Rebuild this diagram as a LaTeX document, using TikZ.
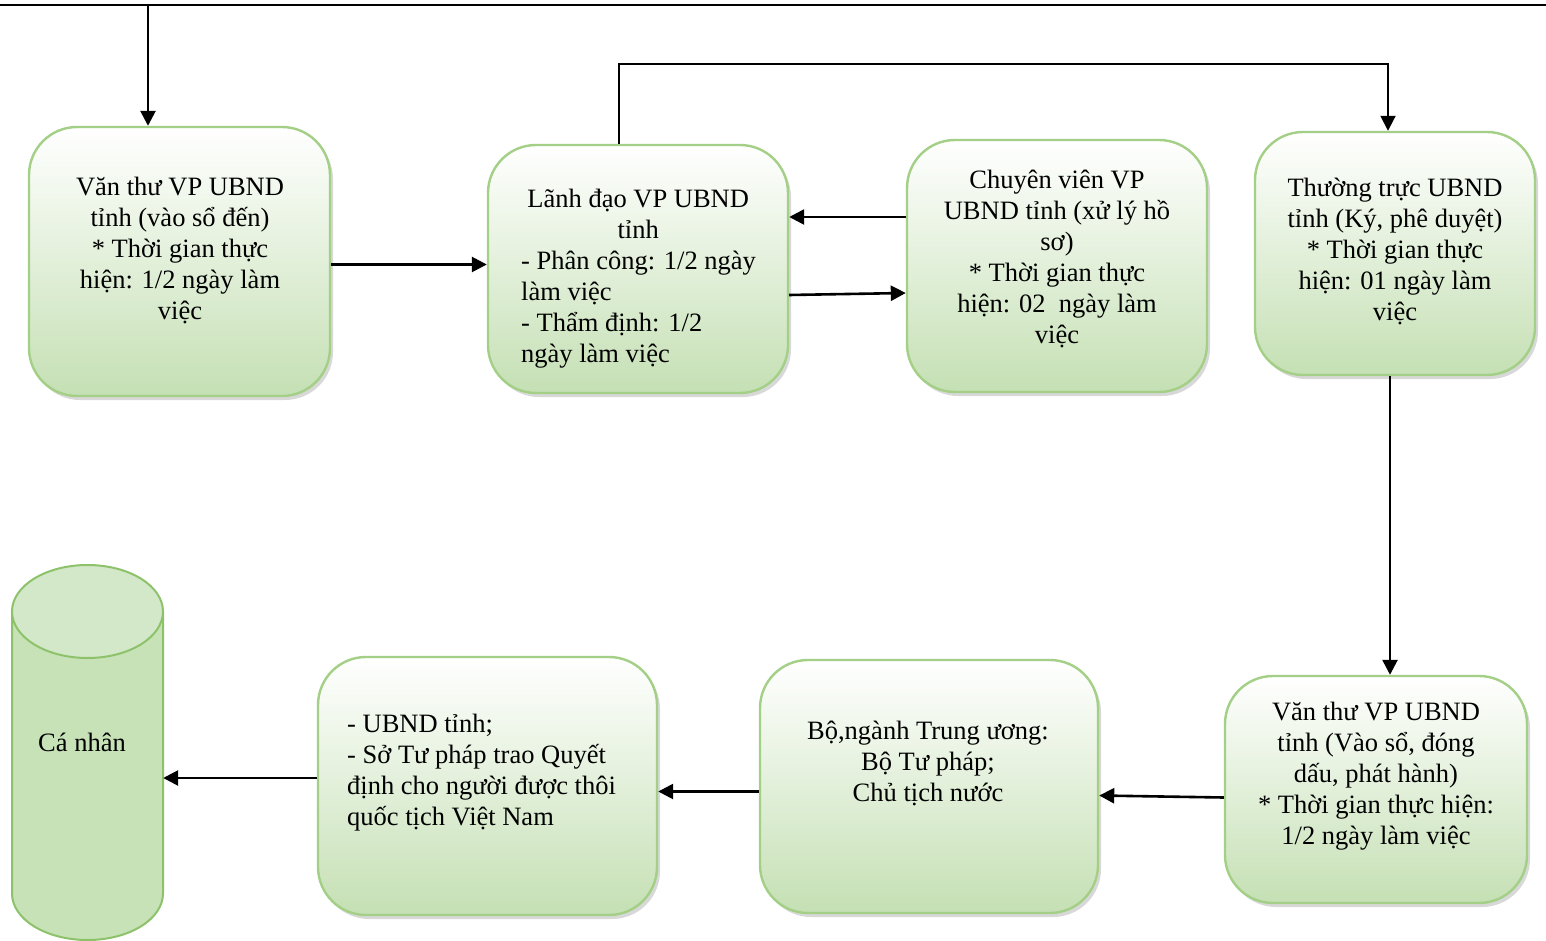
\documentclass[tikz,border=0pt]{standalone}
\usepackage{fontspec}
\setmainfont{Liberation Serif}
\usetikzlibrary{arrows.meta,shadows}
\definecolor{boxg}{HTML}{C5E0B4}
\definecolor{boxline}{HTML}{A3CF86}
\definecolor{cylline}{HTML}{8DC26B}
\definecolor{cylbody}{HTML}{C8E2B8}
\definecolor{cyltop}{HTML}{D3E8C8}
\begin{document}
\begin{tikzpicture}[x=1pt,y=-1pt,
  gbox/.style={rounded corners=48pt, draw=boxline, line width=2.4pt, top color=white, bottom color=boxg,
    drop shadow={shadow xshift=3pt,shadow yshift=-4pt,fill=black!30}, inner sep=0pt},
  txt/.style={font=\fontsize{26.5}{31}\selectfont, align=center, inner sep=0pt},
  arr/.style={line width=2.6pt, -{Triangle[length=15pt,width=15pt]}},
  plain/.style={line width=2.6pt}]
\useasboundingbox (0,0) rectangle (1546,941);

% boxes
\node[gbox, minimum width=301pt, minimum height=269pt] (b1) at (179.5,261.5) {};
\node[gbox, minimum width=300pt, minimum height=248pt] (b2) at (638,269) {};
\node[gbox, minimum width=300pt, minimum height=252pt] (b3) at (1057,266) {};
\node[gbox, minimum width=280pt, minimum height=243pt] (b4) at (1395,253.5) {};
\node[gbox, minimum width=302pt, minimum height=227pt] (b5) at (1376,789.5) {};
\node[gbox, minimum width=338pt, minimum height=253pt] (b6) at (929,786.5) {};
\node[gbox, minimum width=339pt, minimum height=258pt] (b7) at (487.5,786) {};

% cylinder
\node[minimum width=151pt, minimum height=375pt, inner sep=0pt] (cyl) at (87.5,752.5) {};
\fill[cylbody] (12,611.5) -- (12,893.5) arc[start angle=180,end angle=360,x radius=75.5pt,y radius=46.5pt] -- (163,611.5) -- cycle;
\draw[cylline, line width=2pt] (12,611.5) -- (12,893.5) arc[start angle=180,end angle=360,x radius=75.5pt,y radius=46.5pt] -- (163,611.5);
\draw[cylline, line width=2pt, fill=cyltop] (87.5,611.5) ellipse [x radius=75.5pt, y radius=46.5pt];

% texts
\node[txt] (t1) at (180,250) {Văn thư VP UBND\\tỉnh (vào sổ đến)\\* Thời gian thực\\hiện: 1/2 ngày làm\\việc};
\node[txt, align=left, anchor=west] (t2) at (521,279) {\makebox[234pt][c]{Lãnh đạo VP UBND}\\\makebox[234pt][c]{tỉnh}\\- Phân công: 1/2 ngày\\làm việc\\- Thẩm định: 1/2\\ngày làm việc};
\node[txt] (t3) at (1057,259) {Chuyên viên VP\\UBND tỉnh (xử lý hồ\\sơ)\\* Thời gian thực\\hiện: 02\ \ ngày làm\\việc};
\node[txt] (t4) at (1395,251) {Thường trực UBND\\tỉnh (Ký, phê duyệt)\\* Thời gian thực\\hiện: 01 ngày làm\\việc};
\node[txt] (t5) at (1376,776) {Văn thư VP UBND\\tỉnh (Vào sổ, đóng\\dấu, phát hành)\\* Thời gian thực hiện:\\1/2 ngày làm việc};
\node[txt] (t6) at (928,763) {Bộ,ngành Trung ương:\\Bộ Tư pháp;\\Chủ tịch nước};
\node[txt, align=left, anchor=west] (t7) at (347,773) {- UBND tỉnh;\\- Sở Tư pháp trao Quyết\\định cho người được thôi\\quốc tịch Việt Nam};
\node[txt] (tc) at (82,742) {Cá nhân};

% connectors
\coordinate (tl) at (0,5);
\coordinate (tr) at (1546,5);
\coordinate (ts) at (148,5);
\draw[plain] (tl) -- (tr);
\draw[arr] (ts) -- (ts |- b1.north);
\draw[arr] ([yshift=-3pt]b1.east) -- ([yshift=-3pt]b1.east -| b2.west);
\draw[arr] ([yshift=49pt]b3.west) -- ([yshift=49pt]b3.west -| b2.east);
\draw[arr] ([yshift=-26pt]b2.east) -- ([yshift=-27pt]b3.west);
\draw[arr, line width=1.8pt] ([xshift=-19pt]b2.north) -- ++(0,-80) -| ([xshift=-7pt]b4.north);
\draw[arr] ([xshift=-5pt]b4.south) -- ([xshift=-5pt]b4.south |- b5.north);
\draw[arr] ([yshift=-8pt]b5.west) -- ([yshift=-9pt]b6.east);
\draw[arr] ([yshift=-5pt]b6.west) -- ([yshift=-5pt]b6.west -| b7.east);
\draw[arr] ([yshift=8pt]b7.west) -- ([yshift=8pt]b7.west -| cyl.east);
\end{tikzpicture}
\end{document}
